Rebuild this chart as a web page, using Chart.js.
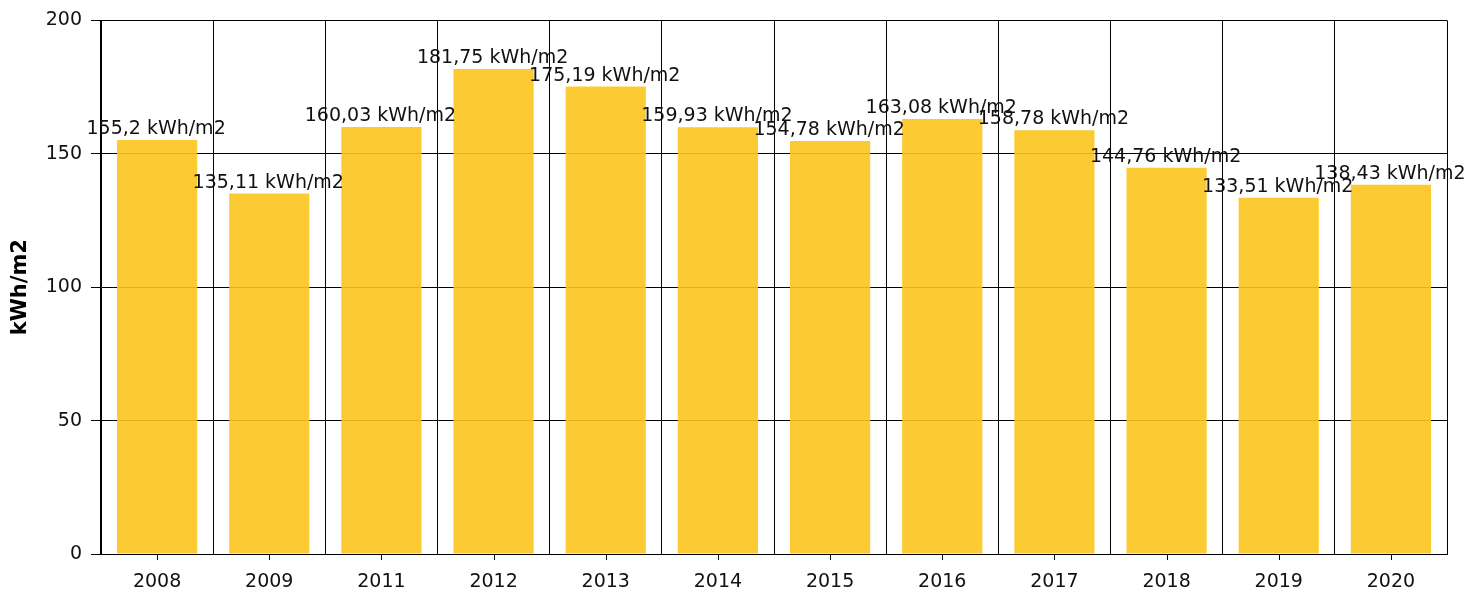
<!DOCTYPE html>
<html>
<head>
<meta charset="utf-8">
<script src="https://cdn.jsdelivr.net/npm/chart.js@4/dist/chart.umd.min.js"></script>
<style>
  html, body { margin: 0; padding: 0; background: #fff; }
</style>
</head>
<body>
<canvas id="chart" width="1470" height="593"></canvas>
<script>
const years = ["2008", "2009", "2011", "2012", "2013", "2014", "2015", "2016", "2017", "2018", "2019", "2020"];
const values = [155.2, 135.11, 160.03, 181.75, 175.19, 159.93, 154.78, 163.08, 158.78, 144.76, 133.51, 138.43];
const yTicks = [0, 50, 100, 150, 200];
const unit = "kWh/m2";

const FONT = "'DejaVu Sans', Verdana, sans-serif";

// value labels above bars, comma decimals
const valueLabels = {
  id: "valueLabels",
  afterDatasetsDraw(chart) {
    const ctx = chart.ctx;
    const meta = chart.getDatasetMeta(0);
    ctx.save();
    ctx.font = "19px " + FONT;
    ctx.fillStyle = "#111";
    ctx.textAlign = "center";
    ctx.textBaseline = "alphabetic";
    meta.data.forEach((bar, i) => {
      const txt = String(values[i]).replace(".", ",") + " " + unit;
      ctx.fillText(txt, bar.x - 1, bar.y - 6);
    });
    ctx.restore();
  },
};

// tick marks under category centres
const centerTicks = {
  id: "centerTicks",
  afterDraw(chart) {
    const ctx = chart.ctx;
    const xs = chart.scales.x;
    const y0 = chart.chartArea.bottom;
    ctx.save();
    ctx.strokeStyle = "#000";
    ctx.lineWidth = 1;
    years.forEach((_, i) => {
      const x = Math.round(xs.getPixelForValue(i)) + 0.5;
      ctx.beginPath();
      ctx.moveTo(x, y0);
      ctx.lineTo(x, y0 + 6);
      ctx.stroke();
    });
    ctx.restore();
  },
};

new Chart(document.getElementById("chart"), {
  type: "bar",
  data: {
    labels: years,
    datasets: [
      {
        data: values,
        backgroundColor: "rgba(252, 196, 28, 0.9)",
        borderWidth: 0,
        barPercentage: 0.715,
        categoryPercentage: 1,
      },
    ],
  },
  options: {
    responsive: false,
    animation: false,
    devicePixelRatio: 1,
    layout: { padding: { top: 20, right: 23, left: 0, bottom: 0 } },
    plugins: { legend: { display: false }, tooltip: { enabled: false } },
    scales: {
      x: {
        grid: { offset: true, color: "#000", lineWidth: 1, drawTicks: false },
        border: { color: "#000", width: 1 },
        ticks: {
          color: "#111",
          font: { family: FONT, size: 19 },
          padding: 17,
          maxRotation: 0,
          autoSkip: false,
        },
        afterFit(s) { s.height = 39; },
      },
      y: {
        min: 0,
        max: 200,
        afterBuildTicks(s) { s.ticks = yTicks.map((v) => ({ value: v })); },
        grid: { color: "#000", lineWidth: 1, tickLength: 10 },
        border: { color: "#000", width: 1 },
        ticks: { color: "#111", font: { family: FONT, size: 19 }, padding: 9 },
        title: {
          display: true,
          text: unit,
          color: "#000",
          font: { family: FONT, size: 21, weight: "bold" },
          padding: { top: 8, bottom: 0 },
        },
        afterFit(s) { s.width = 101; },
      },
    },
  },
  plugins: [valueLabels, centerTicks],
});
</script>
</body>
</html>
